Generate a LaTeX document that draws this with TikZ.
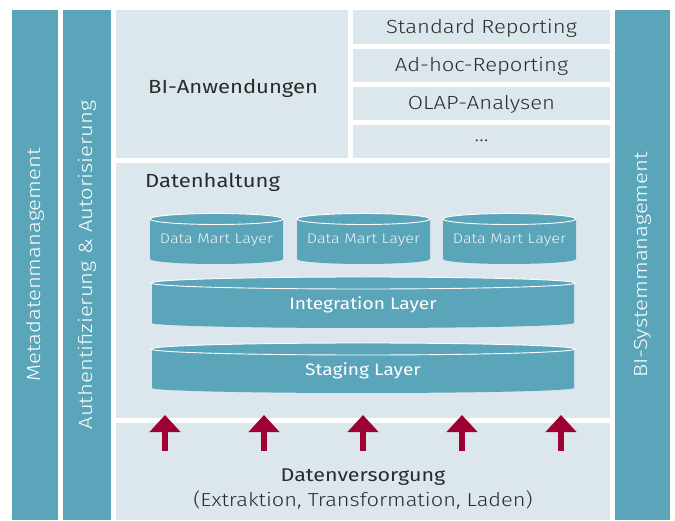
\documentclass[tikz,border=0pt]{standalone}
\usepackage{fontspec}
\setmainfont{Fira Sans Light}[FakeStretch=1.16]
\newfontfamily\regfont{Fira Sans}[FakeStretch=1.16]
\usetikzlibrary{arrows.meta}

\definecolor{bluegreen}{HTML}{5AA5BA}
\definecolor{lightbg}{HTML}{DBE7ED}
\definecolor{darkred}{HTML}{9E0033}
\definecolor{darktext}{HTML}{2B2B2B}

\begin{document}
\begin{tikzpicture}[
        x=1pt, y=1pt,
        every node/.style={inner sep=0pt, text=darktext},
        panel/.style={fill=lightbg},
        column/.style={fill=bluegreen, rotate=90, text=white, font=\fontsize{19}{22}\selectfont},
        report/.style={fill=lightbg, minimum width=257pt, font=\fontsize{19}{22}\selectfont},
        heading/.style={anchor=west, font=\regfont\fontsize{19}{22}\selectfont},
        dmlabel/.style={text=white!88!bluegreen, font=\fontsize{14}{16}\selectfont},
        layerlabel/.style={text=white, font=\regfont\fontsize{16.5}{19}\selectfont},
        cyl/.style={fill=bluegreen},
        rim/.style={draw=white, line width=0.9pt},
        uparrow/.style={draw=darkred, line width=6pt, -{Triangle[width=30pt, length=17pt]}},
    ]
    \useasboundingbox (0,0) rectangle (675,520);

    % columns
    \node[column, minimum width=510pt, minimum height=46pt] (meta) at (35,255) {Metadatenmanagement};
    \node[column, minimum width=510pt, minimum height=48pt] (auth) at (87,255) {Authentifizierung \& Autorisierung};
    \node[column, minimum width=510pt, minimum height=55pt] (sysmgmt) at (642.5,255) {BI-Systemmanagement};

    % BI-Anwendungen
    \fill[panel] (116,362) rectangle (348,510);
    \node[heading] (bianw) at (148,432) {BI-Anwendungen};
    \node[report, minimum height=34pt, text depth=2pt] (std) at (481.5,493) {Standard Reporting};
    \node[report, minimum height=33pt, text depth=2pt] (adhoc) at (481.5,454.5) {Ad-hoc-Reporting};
    \node[report, minimum height=33pt, text depth=2pt] (olap) at (481.5,416.5) {OLAP-Analysen};
    \node[report, minimum height=33pt, text depth=2pt] (more) at (481.5,378.5) {\dots};

    % Datenhaltung
    \fill[panel] (116,102) rectangle (610,357);
    \node[heading] (haltung) at (145,338) {Datenhaltung};
    \foreach \x/\nm in {150/dmA, 297/dmB, 443/dmC} {
        \fill[cyl] (\x,301) -- (\x,261) arc[start angle=180, end angle=360, x radius=66.5, y radius=5]
            -- (\x+133,301) arc[start angle=0, end angle=180, x radius=66.5, y radius=5.5] -- cycle;
        \draw[rim] (\x+66.5,301) ellipse[x radius=66.5, y radius=5.5];
        \node[dmlabel] (\nm) at (\x+66.5,280) {Data Mart Layer};
    }
    \foreach \top/\bot/\nm/\txt in {237/197/integ/Integration Layer, 171/132/staging/Staging Layer} {
        \fill[cyl] (152,\top) -- (152,\bot) arc[start angle=180, end angle=360, x radius=211, y radius=5]
            -- (574,\top) arc[start angle=0, end angle=180, x radius=211, y radius=6] -- cycle;
        \draw[rim] (363,\top) ellipse[x radius=212, y radius=6];
        \node[layerlabel] (\nm) at (363,{(\top+\bot)/2-2}) {\txt};
    }

    % Datenversorgung
    \fill[panel] (116,0) rectangle (610,97);
    \node[font=\regfont\fontsize{18.5}{22}\selectfont] (versorgung) at (363,43) {Datenversorgung};
    \node[font=\fontsize{18.8}{22}\selectfont] (etl) at (363,20) {(Extraktion, Transformation, Laden)};

    % arrows
    \foreach \x [count=\i] in {165,264,363,462,561} {
        \coordinate (from\i) at (\x,69);
        \coordinate (to\i) at (\x,105);
        \draw[uparrow] (from\i) -- (to\i);
    }
\end{tikzpicture}
\end{document}
